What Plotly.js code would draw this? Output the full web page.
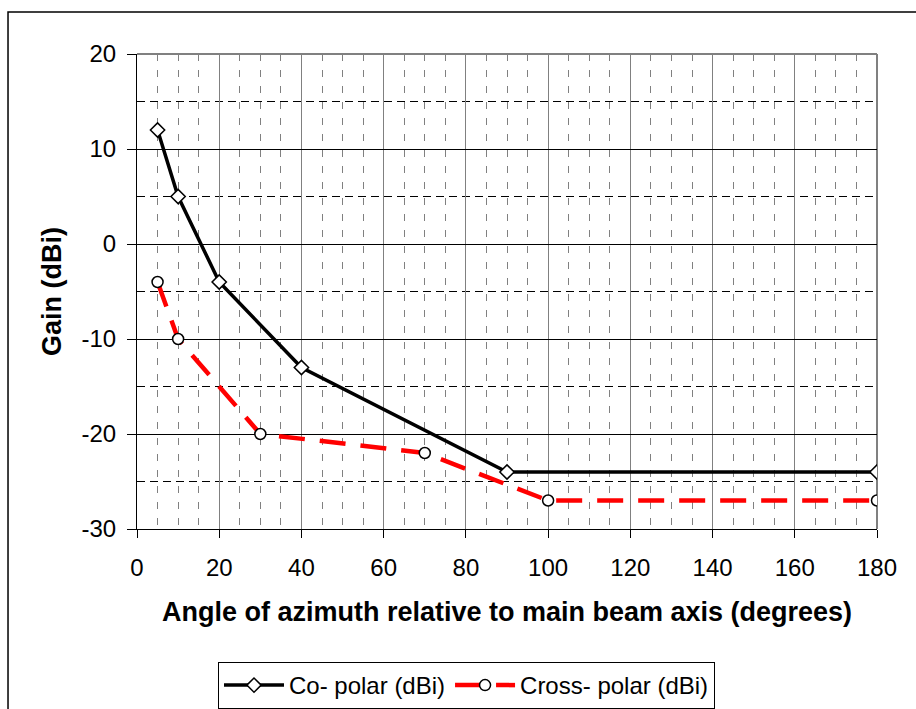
<!DOCTYPE html>
<html>
<head>
<meta charset="utf-8">
<script src="https://cdn.plot.ly/plotly-3.0.1.min.js"></script>
<style>
  html, body { margin: 0; padding: 0; background: #fff; }
  #chart { width: 916px; height: 709px; }
</style>
</head>
<body>
<div id="chart"></div>
<script>
// Data
const coAngles = [5, 10, 20, 40, 90, 180];
const coGain = [12, 5, -4, -13, -24, -24];
const crossAngles = [5, 10, 30, 70, 100, 180];
const crossGain = [-4, -10, -20, -22, -27, -27];
const xTickVals = [0, 20, 40, 60, 80, 100, 120, 140, 160, 180];
const yTickVals = [-30, -20, -10, 0, 10, 20];
const seriesNames = ['Co- polar (dBi)', 'Cross- polar (dBi)'];

const FONT = 'Liberation Sans, Arial, sans-serif';

const traces = [
  {
    x: coAngles, y: coGain, name: seriesNames[0], type: 'scatter', mode: 'lines+markers',
    line: { color: '#000000', width: 3.5 },
    marker: { symbol: 'diamond', size: 11, color: '#ffffff', line: { color: '#000000', width: 1.5 } }
  },
  {
    x: crossAngles, y: crossGain, name: seriesNames[1], type: 'scatter', mode: 'lines+markers',
    line: { color: '#ff0000', width: 4.5, dash: '26px,15px' },
    marker: { symbol: 'circle', size: 11, color: '#ffffff', line: { color: '#000000', width: 1.5 } }
  }
];

const layout = {
  width: 916, height: 709,
  margin: { l: 137, r: 39, t: 54, b: 180 },
  paper_bgcolor: '#ffffff', plot_bgcolor: '#ffffff',
  font: { family: FONT, color: '#000000', size: 24 },
  showlegend: true,
  legend: {
    orientation: 'h', xref: 'container', yref: 'container',
    x: 218 / 916, xanchor: 'left', y: (709 - 662) / 709, yanchor: 'top',
    bordercolor: '#000000', borderwidth: 1, bgcolor: '#ffffff',
    font: { family: FONT, size: 24, color: '#000000' },
    itemwidth: 60, tracegroupgap: 0
  },
  xaxis: {
    range: [0, 180], tickvals: xTickVals, ticktext: xTickVals.map(String),
    automargin: false,
    ticks: 'outside', ticklen: 8, tickcolor: '#000000', tickwidth: 1,
    ticklabelstandoff: 9,
    showline: true, linecolor: '#000000', linewidth: 1,
    showgrid: true, gridcolor: '#808080', gridwidth: 1,
    minor: { dtick: 5, tick0: 0, showgrid: true, gridcolor: '#808080', gridwidth: 1, griddash: '7px,9px', ticks: '' },
    zeroline: false,
    tickfont: { family: FONT, size: 24 },
    title: { text: '<b>Angle of azimuth relative to main beam axis (degrees)</b>', font: { family: FONT, size: 27 }, standoff: 22 }
  },
  yaxis: {
    range: [-30, 20], tickvals: yTickVals, ticktext: yTickVals.map(String),
    automargin: false,
    ticks: 'outside', ticklen: 9, tickcolor: '#000000', tickwidth: 1,
    ticklabelstandoff: 6,
    showline: true, linecolor: '#000000', linewidth: 1,
    showgrid: true, gridcolor: '#000000', gridwidth: 1,
    minor: { dtick: 5, tick0: 0, showgrid: true, gridcolor: '#000000', gridwidth: 1, griddash: '8px,5px', ticks: '' },
    zeroline: false,
    tickfont: { family: FONT, size: 24 },
    title: { text: '<b>Gain (dBi)</b>', font: { family: FONT, size: 27 }, standoff: 12 }
  },
  shapes: [
    // gray top and right plot-area border
    { type: 'line', xref: 'paper', yref: 'paper', x0: 0, x1: 1, y0: 1, y1: 1, line: { color: '#808080', width: 2 }, layer: 'below' },
    { type: 'line', xref: 'paper', yref: 'paper', x0: 1, x1: 1, y0: 0, y1: 1, line: { color: '#808080', width: 2 }, layer: 'below' },
    // outer chart frame (extends past the right and bottom edges)
    { type: 'rect', xref: 'paper', yref: 'paper', x0: -0.1743, x1: 1.08, y0: -0.42, y1: 1.0884, line: { color: '#000000', width: 1.5 }, fillcolor: 'rgba(0,0,0,0)' }
  ]
};

Plotly.newPlot('chart', traces, layout, { displayModeBar: false, staticPlot: true });
</script>
</body>
</html>
